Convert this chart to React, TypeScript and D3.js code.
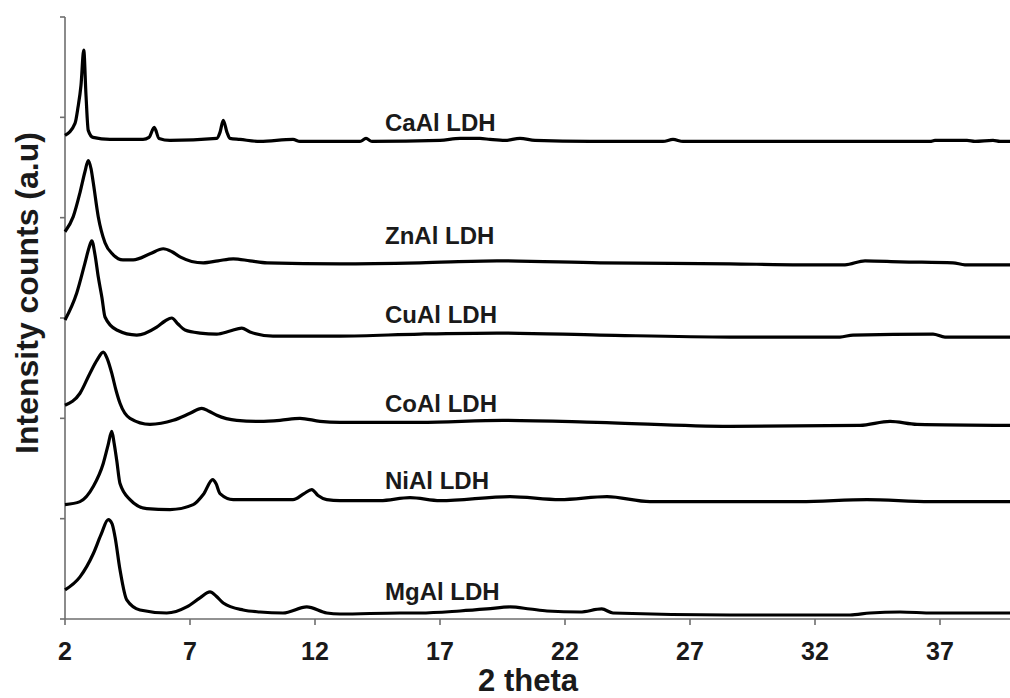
import React from "react";
import * as d3 from "d3";

const seriesNames = ["CaAl LDH", "ZnAl LDH", "CuAl LDH", "CoAl LDH", "NiAl LDH", "MgAl LDH"];

const caAl: [number, number][] = [
  [2.0, 482], [2.4, 494], [2.52, 510], [2.64, 532], [2.75, 567], [2.84, 522], [2.93, 487], [3.12, 480],
  [3.8, 478], [5.12, 478], [5.36, 480], [5.57, 490], [5.76, 479], [6.2, 477], [8.07, 479], [8.2, 485],
  [8.33, 497], [8.48, 485], [8.6, 479], [9.0, 478], [9.8, 476], [11.12, 478], [11.4, 476], [13.8, 476],
  [14.04, 479], [14.28, 476], [17.0, 477], [17.8, 479], [18.6, 479], [19.0, 478], [19.6, 477], [20.2, 479],
  [20.8, 477], [23.0, 476], [25.92, 476], [26.32, 478], [26.72, 476], [28.32, 476], [34.2, 476], [36.6, 476],
  [36.8, 477], [38.08, 477], [38.4, 476], [39.12, 477], [39.4, 476], [40.0, 476],
];

const znAl: [number, number][] = [
  [2.0, 386], [2.33, 401], [2.6, 425], [2.8, 446], [2.93, 457], [3.04, 449], [3.13, 435], [3.33, 401],
  [3.6, 375], [3.93, 363], [4.32, 358], [4.73, 358], [5.4, 364], [5.93, 369], [6.28, 366], [6.6, 361],
  [7.53, 355], [8.12, 357], [8.73, 359], [9.4, 357], [10.08, 355], [13.0, 354], [16.2, 355], [19.28, 357],
  [23.4, 355], [28.6, 354], [31.4, 353], [33.2, 353], [34.0, 357], [35.4, 356], [37.52, 355], [38.0, 353],
  [40.0, 353],
];

const cuAl: [number, number][] = [
  [2.0, 298], [2.47, 325], [2.8, 355], [2.96, 370], [3.07, 377], [3.2, 363], [3.33, 341], [3.48, 320],
  [3.6, 301], [4.07, 288], [4.87, 283], [5.67, 291], [6.0, 297], [6.27, 300], [6.52, 294], [6.8, 288],
  [7.4, 285], [8.07, 284], [8.6, 287], [9.07, 290], [9.4, 286], [10.32, 282], [13.0, 282], [16.2, 284],
  [19.28, 285], [23.4, 283], [28.6, 281], [33.0, 281], [33.52, 283], [36.72, 284], [37.2, 281], [40.0, 281],
];

const coAl: [number, number][] = [
  [2.0, 213], [2.6, 225], [3.0, 245], [3.28, 258], [3.53, 266], [3.68, 260], [3.87, 245], [4.04, 228],
  [4.2, 215], [4.6, 200], [5.4, 194], [6.33, 198], [7.0, 205], [7.47, 210], [7.76, 207], [8.07, 203],
  [8.87, 198], [9.8, 197], [10.6, 198], [11.4, 200], [12.2, 197], [13.0, 196], [16.2, 196], [19.52, 198],
  [23.28, 196], [28.6, 192], [33.8, 193], [35.0, 197], [36.08, 194], [40.0, 193],
];

const niAl: [number, number][] = [
  [2.0, 114], [2.6, 117], [3.13, 132], [3.53, 155], [3.72, 173], [3.87, 187], [3.96, 176], [4.07, 158],
  [4.2, 135], [4.6, 119], [5.27, 110], [6.2, 109], [7.13, 114], [7.53, 124], [7.91, 139], [8.04, 135],
  [8.2, 125], [8.73, 119], [9.4, 119], [11.12, 119], [11.56, 125], [11.87, 129], [12.12, 123], [12.47, 119],
  [13.0, 118], [14.6, 118], [15.8, 121], [17.0, 118], [19.8, 122], [21.8, 119], [23.68, 122], [25.4, 117],
  [28.6, 117], [31.4, 117], [34.08, 119], [36.6, 117], [40.0, 117],
];

const mgAl: [number, number][] = [
  [2.0, 29], [2.6, 42], [3.13, 65], [3.44, 84], [3.73, 99], [3.88, 95], [4.0, 82], [4.2, 49],
  [4.47, 19], [5.0, 9], [6.07, 6], [6.87, 12], [7.4, 21], [7.8, 27], [8.04, 23], [8.33, 16],
  [9.13, 9], [9.8, 7], [10.72, 6], [11.67, 12], [12.47, 6], [13.0, 5], [15.4, 6], [16.2, 6],
  [17.8, 8], [18.88, 10], [19.8, 12], [20.6, 10], [21.28, 8], [22.6, 7], [23.47, 10], [23.92, 6],
  [28.6, 4], [31.4, 4], [33.4, 4], [34.2, 6], [35.4, 7], [36.72, 6], [40.0, 6],
];

const seriesData = [caAl, znAl, cuAl, coAl, niAl, mgAl];
const labelTheta = 14.8;
const labelLevels = [486, 374, 295, 206, 130, 19];

const xTicks = [2, 7, 12, 17, 22, 27, 32, 37];
const yTicks = [0, 100, 200, 300, 400, 500, 600];

const W = 1010;
const H = 698;
const left = 65;
const top = 17;
const bottom = 619;

export default function App() {
  const x = d3.scaleLinear().domain([2, 40]).range([left, left + 950]);
  const y = d3.scaleLinear().domain([0, 600]).range([bottom, top]);
  const line = d3
    .line<[number, number]>()
    .x((d) => x(d[0]))
    .y((d) => y(d[1]))
    .curve(d3.curveMonotoneX);
  const font = "'Liberation Sans', Arial, sans-serif";
  const axisColor = "#6e6e6e";

  return (
    <svg
      width={W}
      height={H}
      style={{ position: "absolute", left: 0, top: 0, background: "#fff" }}
      fontFamily={font}
    >
      <line x1={left} x2={left} y1={y(600)} y2={y(0)} stroke={axisColor} strokeWidth={1.6} />
      {yTicks.map((t) => (
        <line key={"yt" + t} x1={left - 5} x2={left} y1={y(t)} y2={y(t)} stroke={axisColor} strokeWidth={1.6} />
      ))}
      <line x1={left} x2={W} y1={bottom} y2={bottom} stroke={axisColor} strokeWidth={1.6} />
      {xTicks.map((t) => (
        <g key={"xt" + t}>
          <line x1={x(t)} x2={x(t)} y1={bottom} y2={bottom + 6} stroke={axisColor} strokeWidth={1.6} />
          <text x={x(t)} y={660} textAnchor="middle" fontSize={25} fontWeight="bold" fill="#1a1a1a">
            {t}
          </text>
        </g>
      ))}
      {seriesData.map((s, i) => (
        <path key={"s" + i} d={line(s) || ""} fill="none" stroke="#000" strokeWidth={3.2} strokeLinejoin="round" />
      ))}
      {seriesNames.map((n, i) => (
        <text key={"l" + i} x={x(labelTheta)} y={y(labelLevels[i])} fontSize={24} fontWeight="bold" fill="#1a1a1a">
          {n}
        </text>
      ))}
      <text x={528} y={691} textAnchor="middle" fontSize={31} fontWeight="bold" fill="#1a1a1a">
        2 theta
      </text>
      <text
        transform={`translate(38, 293) rotate(-90)`}
        textAnchor="middle"
        fontSize={32}
        fontWeight="bold"
        fill="#1a1a1a"
      >
        Intensity counts (a.u)
      </text>
    </svg>
  );
}
